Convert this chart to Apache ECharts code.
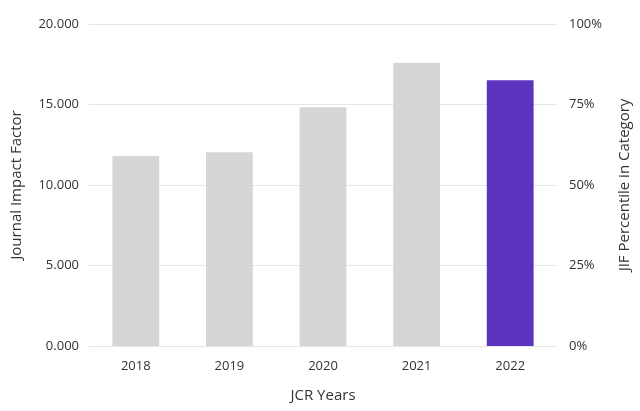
<!DOCTYPE html>
<html>
<head>
<meta charset="utf-8">
<script src="https://cdn.jsdelivr.net/npm/echarts@6/dist/echarts.min.js"></script>
<style>html,body{margin:0;padding:0;background:#fff}#c{width:640px;height:411px}</style>
</head>
<body>
<div id="c"></div>
<script>
const years = ['2018', '2019', '2020', '2021', '2022'];
const jifValues = [11.80, 12.03, 14.83, 17.60, 16.50];
const barColors = ['#d6d6d6', '#d6d6d6', '#d6d6d6', '#d6d6d6', '#5c33bf'];
const leftTicks = [0, 5, 10, 15, 20];
const rightTicks = [0, 25, 50, 75, 100];

const font = '"Open Sans", "Noto Sans", sans-serif';
const chart = echarts.init(document.getElementById('c'));
chart.setOption({
  animation: false,
  grid: { left: 89, right: 82, top: 24, bottom: 65 },
  xAxis: {
    type: 'category',
    data: years,
    name: 'JCR Years',
    nameLocation: 'middle',
    nameGap: 42,
    nameTextStyle: { fontSize: 15, color: '#333', fontFamily: font },
    axisLine: { show: false },
    axisTick: { show: false },
    axisLabel: { fontSize: 13, color: '#333', fontFamily: font, margin: 14 }
  },
  yAxis: [{
    type: 'value',
    min: leftTicks[0], max: leftTicks[leftTicks.length - 1], interval: 5,
    name: 'Journal Impact Factor',
    nameLocation: 'middle',
    nameGap: 65,
    nameTextStyle: { fontSize: 15, color: '#333', fontFamily: font },
    axisLabel: { fontSize: 13, color: '#333', fontFamily: font, margin: 10, formatter: v => v.toFixed(3) },
    splitLine: { lineStyle: { color: '#e6e6e6' } },
    axisLine: { show: false }, axisTick: { show: false }
  }, {
    type: 'value',
    min: rightTicks[0], max: rightTicks[rightTicks.length - 1], interval: 25,
    position: 'right',
    name: 'JIF Percentile in Category',
    nameLocation: 'middle',
    nameGap: 60,
    nameRotate: 90,
    nameTextStyle: { fontSize: 15, color: '#333', fontFamily: font },
    axisLabel: { fontSize: 13, color: '#333', fontFamily: font, margin: 12, formatter: '{value}%' },
    splitLine: { show: false },
    axisLine: { show: false }, axisTick: { show: false }
  }],
  series: [{
    type: 'bar',
    barWidth: '50%',
    data: jifValues.map((v, i) => ({ value: v, itemStyle: { color: barColors[i] } }))
  }]
});
</script>
</body>
</html>
